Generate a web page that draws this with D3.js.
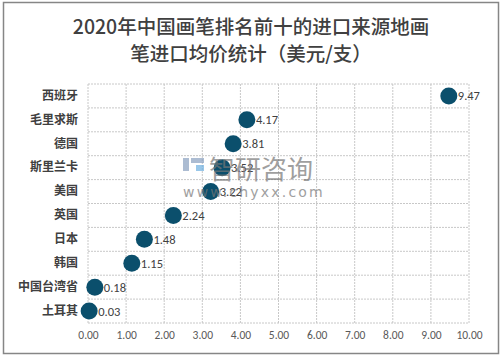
<!DOCTYPE html>
<html><head><meta charset="utf-8">
<script src="https://cdn.jsdelivr.net/npm/d3@7/dist/d3.min.js"></script>
<style>body{margin:0;background:#fff;}svg{display:block;}</style>
</head><body>
<svg id="c" width="502" height="359"></svg>
<script>
const categories = ["西班牙","毛里求斯","德国","斯里兰卡","美国","英国","日本","韩国","中国台湾省","土耳其"];
const values = [9.47,4.17,3.81,3.52,3.22,2.24,1.48,1.15,0.18,0.03];
const tickValues = [0,1,2,3,4,5,6,7,8,9,10];
const titleLines = ["2020年中国画笔排名前十的进口来源地画","笔进口均价统计（美元/支）"];

const svg = d3.select("#c");
svg.append("rect").attr("x",3.5).attr("y",2.5).attr("width",495).attr("height",351)
  .attr("fill","#fff").attr("stroke","#868686").attr("stroke-width",1.5);

svg.selectAll("text.title").data(titleLines).join("text").attr("class","title")
  .attr("x",251).attr("y",(d,i)=>34+i*27).attr("text-anchor","middle")
  .attr("font-family","'Noto Sans CJK SC'").attr("font-size",19.5).attr("font-weight",500)
  .attr("fill","#404040").text(d=>d);

const x = d3.scaleLinear().domain([0,10]).range([88,469]);
const y = d3.scaleBand().domain(categories).range([84,323]);

const g = svg.append("g");
const hLines = d3.range(categories.length+1).map(i=>y.range()[0]+i*y.step());
g.selectAll("line.h").data(hLines).join("line")
  .attr("x1",x(0)).attr("x2",x(10)).attr("y1",d=>d).attr("y2",d=>d)
  .attr("stroke","#c8c8c8").attr("stroke-width",1).attr("stroke-dasharray","2,1");
g.selectAll("line.v").data(tickValues).join("line")
  .attr("x1",d=>x(d)).attr("x2",d=>x(d)).attr("y1",84).attr("y2",323)
  .attr("stroke","#c8c8c8").attr("stroke-width",1).attr("stroke-dasharray","2,1");

const xAxis = d3.axisBottom(x).tickValues(tickValues).tickFormat(d3.format(".2f")).tickSize(0).tickPadding(0);
const ax = svg.append("g").attr("transform","translate(0,331)").call(xAxis);
ax.select(".domain").remove();
ax.selectAll("text").attr("font-family","Carlito, 'Liberation Sans', sans-serif").attr("font-size",11.5).attr("fill","#595959").attr("dy","0.71em");

const yAxis = d3.axisLeft(y).tickSize(0).tickPadding(10);
const ay = svg.append("g").attr("transform","translate(88,0)").call(yAxis);
ay.select(".domain").remove();
ay.selectAll("text").attr("font-family","'Noto Sans CJK SC'").attr("font-size",12).attr("font-weight","bold").attr("fill","#404040");

const data = categories.map((c,i)=>({c, v:values[i]}));
svg.selectAll("circle.d").data(data).join("circle")
  .attr("cx",d=>x(d.v)).attr("cy",d=>y(d.c)+y.bandwidth()/2).attr("r",8.5).attr("fill","#0b4f6c");
svg.selectAll("text.v").data(data).join("text")
  .attr("x",d=>x(d.v)+9).attr("y",d=>y(d.c)+y.bandwidth()/2+4.5)
  .attr("font-family","Carlito, 'Liberation Sans', sans-serif").attr("font-size",12.5).attr("fill","#404040")
  .text(d=>d3.format(".2f")(d.v));

const wm = svg.append("g").attr("opacity",0.7);
wm.append("rect").attr("x",183).attr("y",158).attr("width",6).attr("height",13).attr("fill","#8aa0c0");
wm.append("rect").attr("x",191).attr("y",158).attr("width",13).attr("height",5).attr("fill","#8aa0c0");
wm.append("rect").attr("x",196).attr("y",165).attr("width",8).attr("height",6).attr("fill","#6fb0e0");
wm.append("text").attr("x",209).attr("y",179).attr("font-family","'Noto Sans CJK SC'").attr("font-size",26)
  .attr("fill","#777").text("智研咨询");
wm.append("text").attr("x",183).attr("y",197).attr("font-family","'DejaVu Sans', sans-serif").attr("font-size",14)
  .attr("letter-spacing",2.2).attr("fill","#777").text("www.chyxx.com");
</script>
</body></html>
